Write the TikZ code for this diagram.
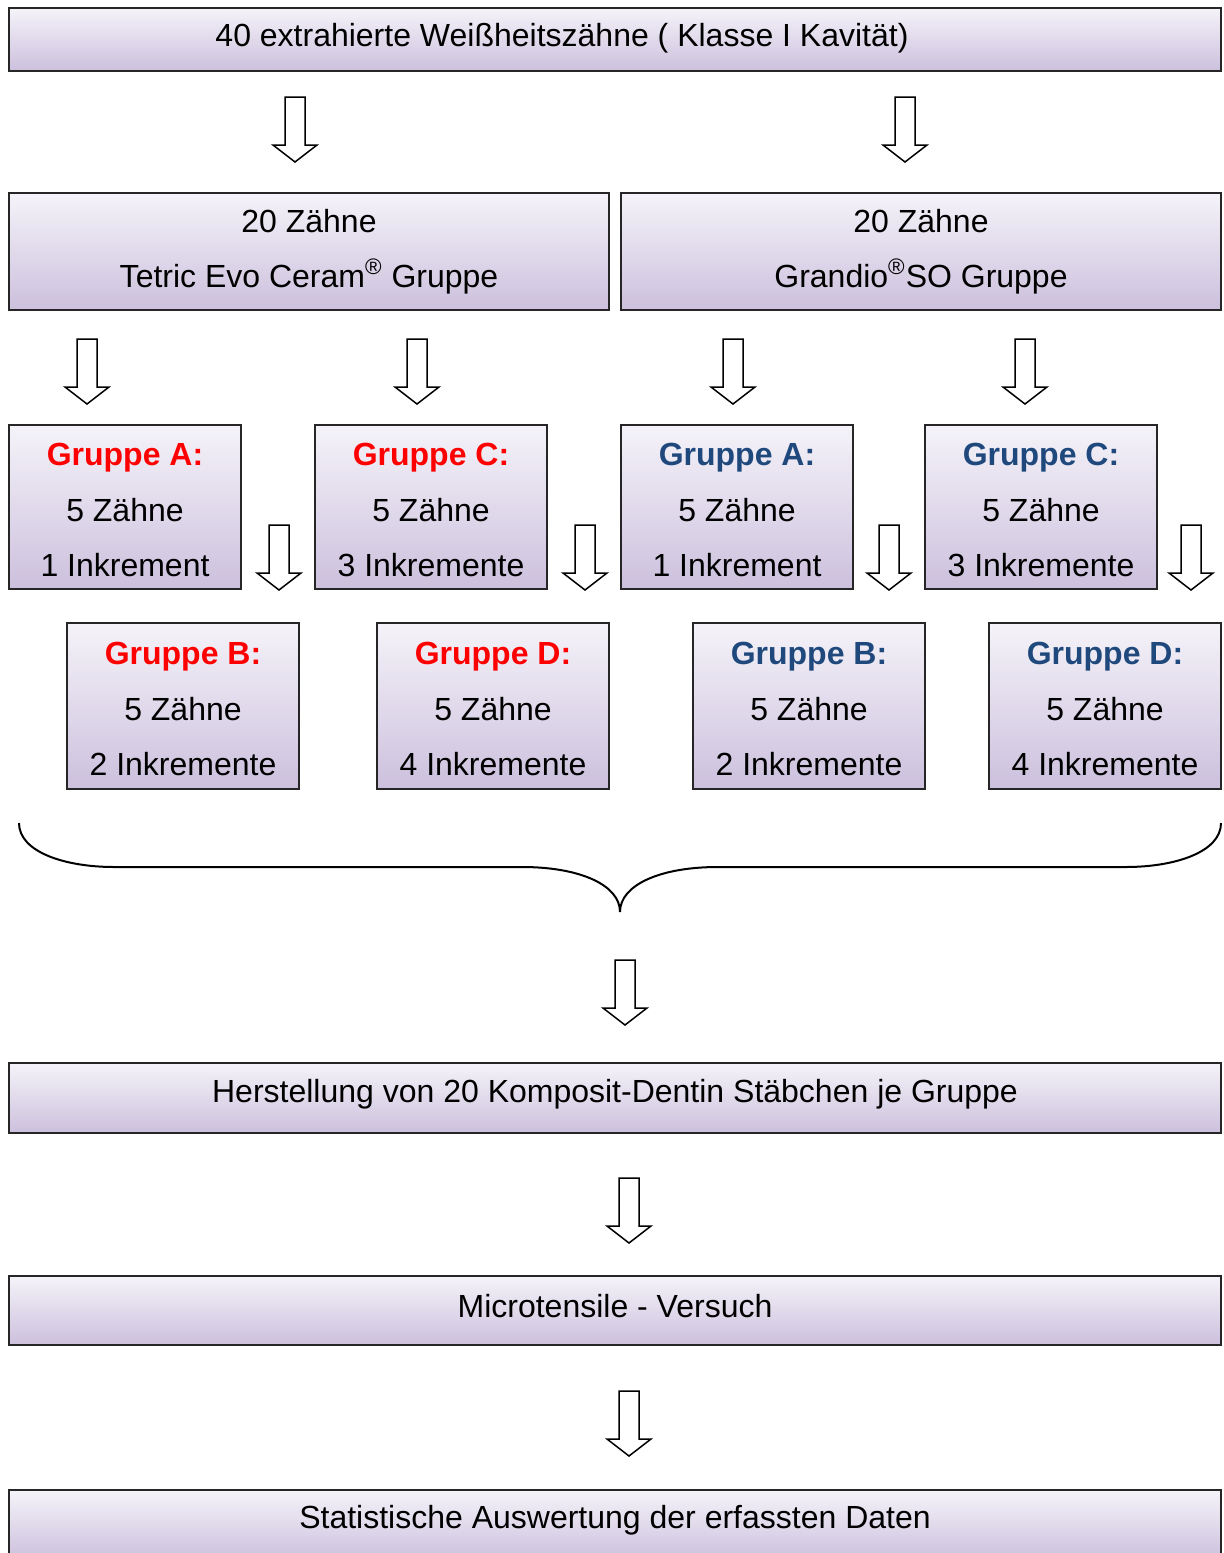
\documentclass[tikz,border=0pt]{standalone}
\usepackage{fontspec}
\setmainfont{Liberation Sans}
\definecolor{boxtop}{RGB}{245,243,249}
\definecolor{boxbot}{RGB}{204,192,221}
\definecolor{grpblue}{RGB}{31,73,125}
\definecolor{grpred}{RGB}{255,0,0}
\tikzset{
  box/.style={draw=black!85, line width=1pt, rectangle, top color=boxtop, bottom color=boxbot, inner sep=0pt},
  txt/.style={font=\fontsize{16pt}{27.7pt}\selectfont, align=center, inner sep=0pt},
  hollow/.style={draw=black, line width=0.75pt, fill=white, line join=miter},
  downarrow/.pic={\path[hollow] (-10,0) -- (10,0) -- (10,48) -- (22,48) -- (0,65) -- (-22,48) -- (-10,48) -- cycle;}
}
% #1 name, #2 x, #3 y, #4 height (pt), #5 colour, #6 head, #7 last line
\newcommand{\grpbox}[7]{%
  \node[box, minimum width=116pt, minimum height=#4] (#1) at (#2,#3) {};
  \node[txt] (#1-text) at (#2,#3+3) {\textcolor{#5}{\bfseries #6}\\5 Zähne\\#7};
}
\begin{document}
\begin{tikzpicture}[x=0.5pt,y=-0.5pt]
\clip (0,0) rectangle (1224,1553);
% top box
\node[box, minimum width=606pt, minimum height=31.5pt] (top) at (615,39.5) {};
\node[txt] (toptext) at (562,38.5) {40 extrahierte Weißheitszähne ( Klasse I Kavität)};
% arrows row 1
\pic at (295,97) {downarrow};
\pic at (905,97) {downarrow};
% row 2
\node[box, txt, minimum width=300pt, minimum height=58.5pt] (tetric) at (309,251.5) {20 Zähne\\Tetric Evo Ceram\textsuperscript{®} Gruppe};
\node[box, txt, minimum width=300pt, minimum height=58.5pt] (grandio) at (921,251.5) {20 Zähne\\Grandio\textsuperscript{®}SO Gruppe};
% arrows row 2
\pic at (87,339) {downarrow};
\pic at (417,339) {downarrow};
\pic at (733,339) {downarrow};
\pic at (1025,339) {downarrow};
% row 3
\grpbox{tA}{125}{507}{82pt}{grpred}{Gruppe A:}{1 Inkrement}
\grpbox{tC}{431}{507}{82pt}{grpred}{Gruppe C:}{3 Inkremente}
\grpbox{gA}{737}{507}{82pt}{grpblue}{Gruppe A:}{1 Inkrement}
\grpbox{gC}{1041}{507}{82pt}{grpblue}{Gruppe C:}{3 Inkremente}
% small arrows
\pic at (279,525) {downarrow};
\pic at (585,525) {downarrow};
\pic at (889,525) {downarrow};
\pic at (1191,525) {downarrow};
% row 4
\grpbox{tB}{183}{706}{83pt}{grpred}{Gruppe B:}{2 Inkremente}
\grpbox{tD}{493}{706}{83pt}{grpred}{Gruppe D:}{4 Inkremente}
\grpbox{gB}{809}{706}{83pt}{grpblue}{Gruppe B:}{2 Inkremente}
\grpbox{gD}{1105}{706}{83pt}{grpblue}{Gruppe D:}{4 Inkremente}
% brace
\coordinate (bl) at (19,823);
\coordinate (btip) at (620,912);
\coordinate (br) at (1221,823);
\draw[line width=1pt] (bl) .. controls (19,852) and (65,867) .. (114,867) -- (522,867)
  .. controls (580,867) and (620,885) .. (btip)
  .. controls (620,885) and (660,867) .. (718,867) -- (1126,867)
  .. controls (1175,867) and (1221,852) .. (br);
% arrow below brace
\pic at (625,960) {downarrow};
% bottom boxes
\node[box, minimum width=606pt, minimum height=35pt] (herst) at (615,1098) {};
\node[txt] (hersttext) at (615,1094.5) {Herstellung von 20 Komposit-Dentin Stäbchen je Gruppe};
\pic at (629,1178) {downarrow};
\node[box, minimum width=606pt, minimum height=34.5pt] (micro) at (615,1310.5) {};
\node[txt] (microtext) at (615,1306) {Microtensile - Versuch};
\pic at (629,1391) {downarrow};
\node[box, minimum width=606pt, minimum height=35pt, anchor=north] (stat) at (615,1489) {};
\node[txt] (stattext) at (615,1520) {Statistische Auswertung der erfassten Daten};
\end{tikzpicture}
\end{document}
